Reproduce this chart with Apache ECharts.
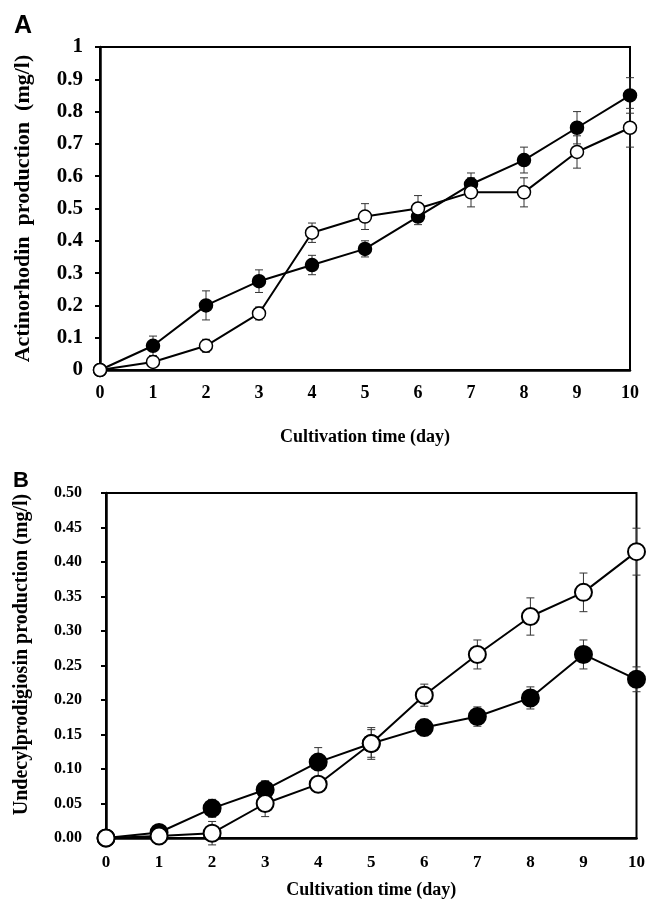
<!DOCTYPE html>
<html>
<head>
<meta charset="utf-8">
<script src="https://cdn.jsdelivr.net/npm/echarts@6/dist/echarts.min.js"></script>
<style>
  html, body { margin: 0; padding: 0; background: #fff; }
  #chart { width: 648px; height: 904px; }
</style>
</head>
<body>
<div id="chart"></div>
<script>
// days
var days = [0, 1, 2, 3, 4, 5, 6, 7, 8, 9, 10];

// panel A - actinorhodin (mg/l)
var actFilled = [0, 0.075, 0.2, 0.275, 0.325, 0.375, 0.475, 0.575, 0.65, 0.75, 0.85];
var actFilledErr = [0, 0.03, 0.045, 0.035, 0.03, 0.025, 0.025, 0.035, 0.04, 0.05, 0.055];
var actOpen = [0, 0.025, 0.075, 0.175, 0.425, 0.475, 0.5, 0.55, 0.55, 0.675, 0.75];
var actOpenErr = [0, 0.01, 0.02, 0.02, 0.03, 0.04, 0.04, 0.045, 0.045, 0.05, 0.06];

// panel B - undecylprodigiosin (mg/l)
var redFilled = [0, 0.008, 0.043, 0.07, 0.11, 0.137, 0.16, 0.176, 0.203, 0.266, 0.23];
var redFilledErr = [0, 0.004, 0.013, 0.013, 0.021, 0.02, 0.012, 0.014, 0.016, 0.021, 0.018];
var redOpen = [0, 0.003, 0.007, 0.05, 0.078, 0.137, 0.207, 0.266, 0.321, 0.356, 0.415];
var redOpenErr = [0, 0.003, 0.017, 0.019, 0.01, 0.023, 0.016, 0.021, 0.027, 0.028, 0.034];

var serif = "Liberation Serif";

function pairs(vals) {
  return days.map(function (d, i) { return [d, vals[i]]; });
}
function errData(vals, errs) {
  return days.map(function (d, i) { return [d, vals[i] - errs[i], vals[i] + errs[i]]; });
}
function errSeries(idx, vals, errs) {
  return {
    type: "custom",
    xAxisIndex: idx,
    yAxisIndex: idx,
    z: 1,
    renderItem: function (params, api) {
      var lo = api.coord([api.value(0), api.value(1)]);
      var hi = api.coord([api.value(0), api.value(2)]);
      var w = 4;
      var st = { stroke: "#333", lineWidth: 1 };
      return {
        type: "group",
        children: [
          { type: "line", shape: { x1: lo[0], y1: lo[1], x2: hi[0], y2: hi[1] }, style: st },
          { type: "line", shape: { x1: lo[0] - w, y1: lo[1], x2: lo[0] + w, y2: lo[1] }, style: st },
          { type: "line", shape: { x1: hi[0] - w, y1: hi[1], x2: hi[0] + w, y2: hi[1] }, style: st }
        ]
      };
    },
    encode: { x: 0, y: [1, 2] },
    data: errData(vals, errs)
  };
}
function lineSeries(idx, vals, filled, size, bw) {
  return {
    type: "line",
    xAxisIndex: idx,
    yAxisIndex: idx,
    z: filled ? 3 : 4,
    symbol: "circle",
    symbolSize: size,
    showSymbol: true,
    lineStyle: { color: "#000", width: 2 },
    itemStyle: { color: filled ? "#000" : "#fff", borderColor: "#000", borderWidth: bw },
    data: pairs(vals)
  };
}

var chart = echarts.init(document.getElementById("chart"));
var option = {
  animation: false,
  graphic: [
    { type: "text", left: 14, top: 14, style: { text: "A", font: "bold 25px 'Liberation Sans'", fill: "#000" } },
    { type: "text", left: 13, top: 470, style: { text: "B", font: "bold 22px 'Liberation Sans'", fill: "#000" } }
  ],
  grid: [
    { left: 100, top: 47, right: 18, bottom: 534, show: true, borderColor: "#000", borderWidth: 2 },
    { left: 106, top: 493, right: 10, bottom: 66, show: true, borderColor: "#000", borderWidth: 2 }
  ],
  xAxis: [
    {
      gridIndex: 0, type: "value", min: 0, max: 10, interval: 1,
      name: "Cultivation time (day)", nameLocation: "middle", nameGap: 58,
      nameTextStyle: { fontFamily: serif, fontWeight: "bold", fontSize: 18, color: "#000" },
      axisLine: { lineStyle: { color: "#000", width: 2.5 } },
      axisTick: { show: false },
      splitLine: { show: false },
      axisLabel: { margin: 14, fontFamily: serif, fontWeight: "bold", fontSize: 18, color: "#000" }
    },
    {
      gridIndex: 1, type: "value", min: 0, max: 10, interval: 1,
      name: "Cultivation time (day)", nameLocation: "middle", nameGap: 43,
      nameTextStyle: { fontFamily: serif, fontWeight: "bold", fontSize: 18, color: "#000" },
      axisLine: { lineStyle: { color: "#000", width: 2.5 } },
      axisTick: { show: false },
      splitLine: { show: false },
      axisLabel: { margin: 16, fontFamily: serif, fontWeight: "bold", fontSize: 17, color: "#000" }
    }
  ],
  yAxis: [
    {
      gridIndex: 0, type: "value", min: 0, max: 1, interval: 0.1,
      name: "Actinorhodin  production  (mg/l)", nameLocation: "middle", nameGap: 66,
      nameTextStyle: { fontFamily: serif, fontWeight: "bold", fontSize: 22, color: "#000" },
      axisLine: { lineStyle: { color: "#000", width: 2.5 } },
      axisTick: { show: true, length: 5, lineStyle: { color: "#000", width: 2 } },
      splitLine: { show: false },
      axisLabel: {
        margin: 17, fontFamily: serif, fontWeight: "bold", fontSize: 21, color: "#000",
        formatter: function (v) { return String(Math.round(v * 10) / 10); }
      }
    },
    {
      gridIndex: 1, type: "value", min: 0, max: 0.5, interval: 0.05,
      name: "Undecylprodigiosin production (mg/l)", nameLocation: "middle", nameGap: 74,
      nameTextStyle: { fontFamily: serif, fontWeight: "bold", fontSize: 20, color: "#000", padding: [0, 0, 0, 22] },
      axisLine: { lineStyle: { color: "#000", width: 2.5 } },
      axisTick: { show: true, length: 5, lineStyle: { color: "#000", width: 2 } },
      splitLine: { show: false },
      axisLabel: {
        margin: 24, fontFamily: serif, fontWeight: "bold", fontSize: 16, color: "#000",
        formatter: function (v) { return v.toFixed(2); }
      }
    }
  ],
  series: [
    errSeries(0, actFilled, actFilledErr),
    errSeries(0, actOpen, actOpenErr),
    lineSeries(0, actFilled, true, 13, 1.5),
    lineSeries(0, actOpen, false, 13, 1.5),
    errSeries(1, redFilled, redFilledErr),
    errSeries(1, redOpen, redOpenErr),
    lineSeries(1, redFilled, true, 17, 2),
    lineSeries(1, redOpen, false, 17, 2)
  ]
};
chart.setOption(option);
</script>
</body>
</html>
